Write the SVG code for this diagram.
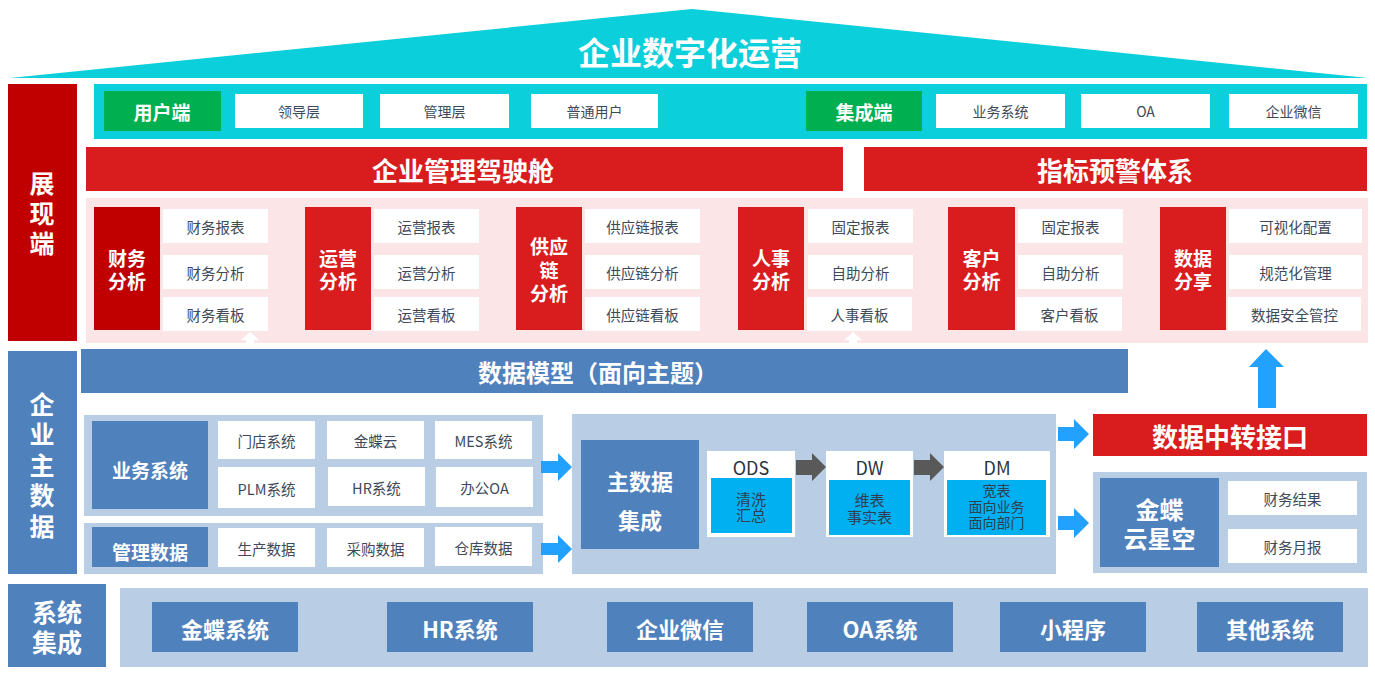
<svg xmlns="http://www.w3.org/2000/svg" width="1375" height="675" viewBox="0 0 1375 675">
<style>
text{font-family:"Noto Sans CJK SC","Noto Sans",sans-serif;text-anchor:middle;dominant-baseline:central}
.cy{fill:#0BCFDA}.gr{fill:#00B050}.rd{fill:#D91C1E}.dr{fill:#C00000}.pk{fill:#FBE5E6}
.bl{fill:#4F81BD}.lb{fill:#B9CDE5}.wh{fill:#FFFFFF}.in{fill:#00B0F0}
.ar{fill:#22A1FF}.ga{fill:#595959}
.t1{font-size:32px;font-weight:700;fill:#fff}
.t0{font-size:26px;font-weight:700;fill:#fff}
.t2{font-size:24px;font-weight:700;fill:#fff}
.tl{font-size:25px;font-weight:700;fill:#fff}
.t3{font-size:22px;font-weight:700;fill:#fff}
.t4{font-size:19px;font-weight:700;fill:#fff}
.t5{font-size:19px;font-weight:700;fill:#fff}
.w{font-size:14.5px;fill:#3E4A5A}
.ws{font-size:14px;fill:#3E4A5A}
.h{font-size:18px;fill:#2B3440}
.ic{font-size:15px;fill:#2F3E50}
.id{font-size:14px;fill:#2F3E50}
</style>

<g id="roof">
<polygon class="cy" points="10,78 692,9 1368,78"/>
<text class="t1" x="690" y="51">企业数字化运营</text>
</g>

<g id="label-display">
<rect class="dr" x="8" y="84" width="69" height="257"/>
<text class="tl" x="42" y="182">展<tspan x="42" dy="30">现</tspan><tspan x="42" dy="30">端</tspan></text>
</g>
<g id="label-masterdata">
<rect class="bl" x="8" y="351" width="69" height="223"/>
<text class="tl" x="42" y="403">企<tspan x="42" dy="30">业</tspan><tspan x="42" dy="30.5">主</tspan><tspan x="42" dy="30.5">数</tspan><tspan x="42" dy="31">据</tspan></text>
</g>
<g id="label-integration">
<rect class="bl" x="8" y="584" width="98" height="83"/>
<text class="tl" x="57" y="611">系统<tspan x="57" dy="30">集成</tspan></text>
</g>

<g id="endpoints">
<rect class="cy" x="94" y="84" width="1273" height="55"/>
<g id="user-end"><rect class="gr" x="104" y="91" width="117" height="40"/><text class="t5" x="162" y="111">用户端</text></g>
<g id="leader"><rect class="wh" x="235" y="94" width="128" height="34"/><text class="ws" x="299" y="111">领导层</text></g>
<g id="manager"><rect class="wh" x="380" y="94" width="129" height="34"/><text class="ws" x="444.5" y="111">管理层</text></g>
<g id="normal-user"><rect class="wh" x="531" y="94" width="127" height="34"/><text class="ws" x="594.5" y="111">普通用户</text></g>
<g id="integ-end"><rect class="gr" x="806" y="91" width="116" height="40"/><text class="t5" x="864" y="111">集成端</text></g>
<g id="biz-sys"><rect class="wh" x="936" y="94" width="129" height="34"/><text class="ws" x="1000.5" y="111">业务系统</text></g>
<g id="oa"><rect class="wh" x="1081" y="94" width="129" height="34"/><text class="ws" x="1145.5" y="111">OA</text></g>
<g id="wecom"><rect class="wh" x="1229" y="94" width="129" height="34"/><text class="ws" x="1293.5" y="111">企业微信</text></g>
</g>

<g id="cockpit"><rect class="rd" x="86" y="147" width="757" height="44"/><text class="t0" x="463" y="169">企业管理驾驶舱</text></g>
<g id="alert"><rect class="rd" x="864" y="147" width="503" height="44"/><text class="t0" x="1115" y="169">指标预警体系</text></g>

<rect id="display-panel" class="pk" x="86" y="198" width="1282" height="145"/>

<g id="card-finance">
<rect class="dr" x="94" y="207" width="66" height="123"/>
<text class="t4" x="127" y="257">财务<tspan x="127" dy="23">分析</tspan></text>
<rect class="wh" x="163" y="209" width="105" height="34"/><text class="w" x="215.5" y="226">财务报表</text>
<rect class="wh" x="163" y="255" width="105" height="34"/><text class="w" x="215.5" y="272">财务分析</text>
<rect class="wh" x="163" y="297" width="105" height="34"/><text class="w" x="215.5" y="314">财务看板</text>
</g>
<g id="card-ops">
<rect class="rd" x="305" y="207" width="66" height="123"/>
<text class="t4" x="338" y="257">运营<tspan x="338" dy="23">分析</tspan></text>
<rect class="wh" x="374" y="209" width="105" height="34"/><text class="w" x="426.5" y="226">运营报表</text>
<rect class="wh" x="374" y="255" width="105" height="34"/><text class="w" x="426.5" y="272">运营分析</text>
<rect class="wh" x="374" y="297" width="105" height="34"/><text class="w" x="426.5" y="314">运营看板</text>
</g>
<g id="card-supply">
<rect class="rd" x="516" y="207" width="66" height="123"/>
<text class="t4" x="549" y="245">供应<tspan x="549" dy="24">链</tspan><tspan x="549" dy="23">分析</tspan></text>
<rect class="wh" x="585" y="209" width="115" height="34"/><text class="w" x="642.5" y="226">供应链报表</text>
<rect class="wh" x="585" y="255" width="115" height="34"/><text class="w" x="642.5" y="272">供应链分析</text>
<rect class="wh" x="585" y="297" width="115" height="34"/><text class="w" x="642.5" y="314">供应链看板</text>
</g>
<g id="card-hr">
<rect class="rd" x="738" y="207" width="66" height="123"/>
<text class="t4" x="771" y="257">人事<tspan x="771" dy="23">分析</tspan></text>
<rect class="wh" x="808" y="209" width="105" height="34"/><text class="w" x="860.5" y="226">固定报表</text>
<rect class="wh" x="808" y="255" width="105" height="34"/><text class="w" x="860.5" y="272">自助分析</text>
<rect class="wh" x="807" y="297" width="105" height="34"/><text class="w" x="859.5" y="314">人事看板</text>
</g>
<g id="card-customer">
<rect class="rd" x="948" y="207" width="67" height="123"/>
<text class="t4" x="981.5" y="257">客户<tspan x="981.5" dy="23">分析</tspan></text>
<rect class="wh" x="1018" y="209" width="105" height="34"/><text class="w" x="1070.5" y="226">固定报表</text>
<rect class="wh" x="1018" y="255" width="105" height="34"/><text class="w" x="1070.5" y="272">自助分析</text>
<rect class="wh" x="1017" y="297" width="105" height="34"/><text class="w" x="1069.5" y="314">客户看板</text>
</g>
<g id="card-share">
<rect class="rd" x="1160" y="207" width="66" height="123"/>
<text class="t4" x="1193" y="257">数据<tspan x="1193" dy="23">分享</tspan></text>
<rect class="wh" x="1229" y="209" width="133" height="34"/><text class="w" x="1295.5" y="226">可视化配置</text>
<rect class="wh" x="1229" y="255" width="133" height="34"/><text class="w" x="1295.5" y="272">规范化管理</text>
<rect class="wh" x="1228" y="297" width="133" height="34"/><text class="w" x="1294.5" y="314">数据安全管控</text>
</g>

<g id="data-model"><rect class="bl" x="81" y="349" width="1047" height="44"/><text class="t2" x="598" y="371">数据模型（面向主题）</text></g>

<g id="biz-panel">
<rect class="lb" x="84" y="415" width="459" height="101"/>
<rect class="bl" x="92" y="421" width="116" height="88"/><text class="t4" x="150" y="469">业务系统</text>
<rect class="wh" x="218" y="421" width="97" height="38"/><text class="w" x="266.5" y="440">门店系统</text>
<rect class="wh" x="327" y="421" width="97" height="38"/><text class="w" x="375.5" y="440">金蝶云</text>
<rect class="wh" x="435" y="421" width="97" height="38"/><text class="w" x="483.5" y="440">MES系统</text>
<rect class="wh" x="218" y="467" width="97" height="41"/><text class="w" x="266.5" y="488">PLM系统</text>
<rect class="wh" x="328" y="467" width="97" height="39"/><text class="w" x="376.5" y="487">HR系统</text>
<rect class="wh" x="436" y="467" width="97" height="40"/><text class="w" x="484.5" y="487">办公OA</text>
</g>
<g id="mgmt-panel">
<rect class="lb" x="84" y="523" width="459" height="51"/>
<rect class="bl" x="92" y="527" width="116" height="40"/><text class="t4" x="150" y="551">管理数据</text>
<rect class="wh" x="218" y="528" width="97" height="39"/><text class="w" x="266.5" y="548">生产数据</text>
<rect class="wh" x="327" y="528" width="97" height="39"/><text class="w" x="375.5" y="548">采购数据</text>
<rect class="wh" x="435" y="527" width="97" height="39"/><text class="w" x="483.5" y="547">仓库数据</text>
</g>

<g id="mdm-panel">
<rect class="lb" x="572" y="414" width="484" height="160"/>
<rect class="bl" x="581" y="440" width="118" height="109"/>
<text class="t3" x="640" y="480">主数据<tspan x="640" dy="39">集成</tspan></text>
<g id="ods">
<rect class="wh" x="707" y="451" width="88" height="86"/>
<text class="h" x="751" y="467">ODS</text>
<rect class="in" x="711" y="478" width="81" height="55"/>
<text class="ic" x="751" y="498">清洗<tspan x="751" dy="16">汇总</tspan></text>
</g>
<g id="dw">
<rect class="wh" x="826" y="451" width="87" height="86"/>
<text class="h" x="869.5" y="467">DW</text>
<rect class="in" x="829" y="480" width="81" height="55"/>
<text class="ic" x="869.5" y="499">维表<tspan x="869.5" dy="17">事实表</tspan></text>
</g>
<g id="dm">
<rect class="wh" x="944" y="451" width="106" height="86"/>
<text class="h" x="997" y="467">DM</text>
<rect class="in" x="947" y="480" width="99" height="55"/>
<text class="id" x="996.5" y="490">宽表<tspan x="996.5" dy="16">面向业务</tspan><tspan x="996.5" dy="16">面向部门</tspan></text>
</g>
</g>

<g id="relay"><rect class="rd" x="1093" y="414" width="274" height="42"/><text class="t0" x="1230" y="435">数据中转接口</text></g>
<g id="kingdee-panel">
<rect class="lb" x="1093" y="472" width="274" height="101"/>
<rect class="bl" x="1100" y="478" width="119" height="89"/>
<text class="t2" x="1159.5" y="508">金蝶<tspan x="1159.5" dy="29">云星空</tspan></text>
<rect class="wh" x="1228" y="481" width="129" height="34"/><text class="w" x="1292.5" y="498">财务结果</text>
<rect class="wh" x="1228" y="529" width="129" height="34"/><text class="w" x="1292.5" y="546">财务月报</text>
</g>

<g id="system-integration">
<rect class="lb" x="120" y="588" width="1248" height="79"/>
<g id="sys-kingdee"><rect class="bl" x="152" y="602" width="146" height="50"/><text class="t3" x="225" y="628">金蝶系统</text></g>
<g id="sys-hr"><rect class="bl" x="387" y="602" width="146" height="50"/><text class="t3" x="460" y="628">HR系统</text></g>
<g id="sys-wecom"><rect class="bl" x="607" y="602" width="146" height="50"/><text class="t3" x="680" y="628">企业微信</text></g>
<g id="sys-oa"><rect class="bl" x="807" y="602" width="146" height="50"/><text class="t3" x="880" y="628">OA系统</text></g>
<g id="sys-mini"><rect class="bl" x="1000" y="602" width="146" height="50"/><text class="t3" x="1073" y="628">小程序</text></g>
<g id="sys-other"><rect class="bl" x="1197" y="602" width="146" height="50"/><text class="t3" x="1270" y="628">其他系统</text></g>
</g>

<g id="connectors">
<polygon class="wh" points="250,332 241,340 246,340 246,346 254,346 254,340 259,340"/>
<polygon class="wh" points="853,332 844,340 849,340 849,346 857,346 857,340 862,340"/>
<polygon class="ar" points="1266,349 1284,367 1276,367 1276,408 1258,408 1258,367 1249,367"/>
<polygon class="ar" points="541,461 558,461 558,453 572,467 558,481 558,473 541,473"/>
<polygon class="ar" points="541,543 558,543 558,535 572,549 558,563 558,555 541,555"/>
<polygon class="ga" points="796,460 812,460 812,453 826,467 812,481 812,475 796,475"/>
<polygon class="ga" points="914,460 930,460 930,453 944,467 930,481 930,475 914,475"/>
<polygon class="ar" points="1058,427 1074,427 1074,419 1089,434 1074,449 1074,441 1058,441"/>
<polygon class="ar" points="1058,516 1074,516 1074,508 1089,523 1074,538 1074,530 1058,530"/>
</g>
</svg>
